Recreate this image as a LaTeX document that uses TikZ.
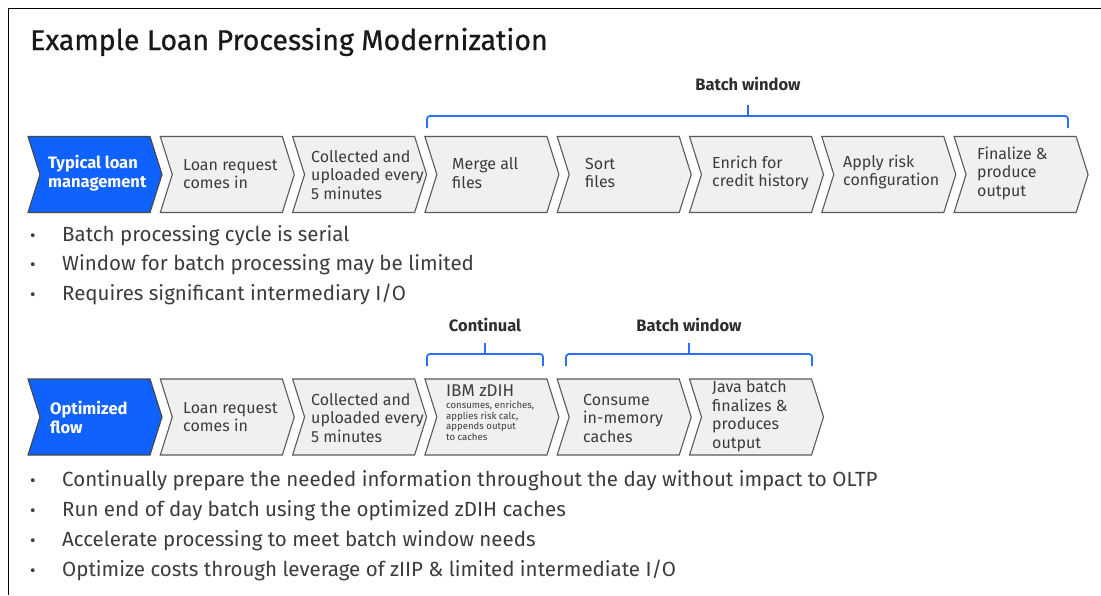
\documentclass[tikz,border=0pt]{standalone}
\usepackage{fontspec}
\setmainfont{Fira Sans}
\newfontfamily\headingfont{Fira Sans}[FakeBold=0.7]
\usetikzlibrary{shapes.symbols}
\definecolor{ibmblue}{HTML}{0F62FE}
\definecolor{bracketblue}{HTML}{2A6FFF}
\definecolor{chevfill}{HTML}{F0F0F0}
\definecolor{chevedge}{HTML}{5A5A5A}
\definecolor{bodytext}{HTML}{3C3C3C}
\definecolor{labeltext}{HTML}{2E2E2E}
\begin{document}
\begin{tikzpicture}[x=1pt,y=-1pt,
  chev/.style={signal, signal to=east, signal from=west, signal pointer angle=145,
    minimum width=134pt, minimum height=76pt, inner sep=0pt,
    draw=chevedge, line width=1.1pt, fill=chevfill},
  chevblue/.style={chev, fill=ibmblue, draw=chevedge!80!black},
  ctext/.style={anchor=west, align=left, inner sep=0pt, text=bodytext,
    font=\fontsize{16}{18.5}\selectfont},
  cwhite/.style={ctext, text=white, font=\fontsize{16.5}{19}\selectfont\bfseries},
  bultext/.style={anchor=base west, inner sep=0pt, text=bodytext,
    font=\fontsize{20.5}{24}\selectfont},
  bulmark/.style={anchor=base, inner sep=0pt, text=bodytext,
    font=\fontsize{17}{18}\selectfont},
  bracket/.style={draw=bracketblue, line width=1.8pt, rounded corners=3pt},
  blabel/.style={anchor=base, inner sep=0pt, text=labeltext,
    font=\fontsize{16.5}{19}\selectfont\bfseries}]
\useasboundingbox (0,0) rectangle (1101,595);
\fill[white] (0,0) rectangle (1101,595);

% frame
\draw[line width=1.2pt, black] (8.5,595) -- (8.5,8.5) -- (1101,8.5);

% title
\node[anchor=base west, inner sep=0pt, text=black!90,
  font=\headingfont\fontsize{28.5}{32}\selectfont] (title) at (30,50) {Example Loan Processing Modernization};

% ---------- first flow ----------
\node[chevblue] (a0) at (95,174.5) {};
\node[chev] (a1) at (227.3,174.5) {};
\node[chev] (a2) at (359.6,174.5) {};
\node[chev] (a3) at (491.9,174.5) {};
\node[chev] (a4) at (624.2,174.5) {};
\node[chev] (a5) at (756.5,174.5) {};
\node[chev] (a6) at (888.8,174.5) {};
\node[chev] (a7) at (1021.1,174.5) {};

\node[cwhite] (ta0) at (48,173) {Typical loan\\management};
\node[ctext] (ta1) at (183,174) {Loan request\\comes in};
\node[ctext] (ta2) at (311,175) {Collected and\\uploaded every\\5 minutes};
\node[ctext] (ta3) at (452,173) {Merge all\\files};
\node[ctext] (ta4) at (585,173) {Sort\\files};
\node[ctext] (ta5) at (712,173) {Enrich for\\credit history};
\node[ctext] (ta6) at (843,172) {Apply risk\\configuration};
\node[ctext] (ta7) at (977,173) {Finalize \&\\produce\\output};

% batch window bracket
\coordinate (b1l) at (427,128);
\coordinate (b1r) at (1068,128);
\coordinate (b1m) at (748,116);
\draw[bracket] (b1l) -- (427,116) -- (1068,116) -- (b1r);
\draw[bracket, rounded corners=0pt] (b1m) -- ++(0,-11);
\node[blabel] (lb1) at (748,90) {Batch window};

% bullets, first flow
\node[bulmark] (m1) at (33,241) {•};
\node[bultext] (l1) at (62,241) {Batch processing cycle is serial};
\node[bulmark] (m2) at (33,270) {•};
\node[bultext] (l2) at (62,270) {Window for batch processing may be limited};
\node[bulmark] (m3) at (33,300) {•};
\node[bultext] (l3) at (62,300) {Requires significant intermediary I/O};

% ---------- optimized flow ----------
\node[chevblue] (c0) at (95,417) {};
\node[chev] (c1) at (227.3,417) {};
\node[chev] (c2) at (359.6,417) {};
\node[chev] (c3) at (491.9,417) {};
\node[chev] (c4) at (624.2,417) {};
\node[chev] (c5) at (756.5,417) {};

\node[cwhite] (tc0) at (50,417) {Optimized\\flow};
\node[ctext] (tc1) at (183,417) {Loan request\\comes in};
\node[ctext] (tc2) at (311,418) {Collected and\\uploaded every\\5 minutes};
\node[anchor=base west, inner sep=0pt, text=bodytext,
  font=\fontsize{17}{18}\selectfont] (tc3) at (446,396) {IBM zDIH};
\node[anchor=north west, align=left, inner sep=0pt, text=bodytext,
  font=\fontsize{9.6}{10.6}\selectfont] (tc3s) at (446,401)
  {consumes, enriches,\\applies risk calc,\\appends output\\to caches};
\node[ctext] (tc4) at (583,418) {Consume\\in-memory\\caches};
\node[ctext] (tc5) at (712,416) {Java batch\\finalizes \&\\produces\\output};

% continual bracket
\coordinate (b2l) at (427,366);
\coordinate (b2r) at (543,366);
\coordinate (b2m) at (485,354);
\draw[bracket] (b2l) -- (427,354) -- (543,354) -- (b2r);
\draw[bracket, rounded corners=0pt] (b2m) -- ++(0,-11);
\node[blabel] (lb2) at (485,331) {Continual};

% batch window bracket, optimized flow
\coordinate (b3l) at (566,366);
\coordinate (b3r) at (812,366);
\coordinate (b3m) at (689,354);
\draw[bracket] (b3l) -- (566,354) -- (812,354) -- (b3r);
\draw[bracket, rounded corners=0pt] (b3m) -- ++(0,-11);
\node[blabel] (lb3) at (689,331) {Batch window};

% bullets, optimized flow
\node[bulmark] (n1) at (33,486) {•};
\node[bultext] (k1) at (62,486) {Continually prepare the needed information throughout the day without impact to OLTP};
\node[bulmark] (n2) at (33,516) {•};
\node[bultext] (k2) at (62,516) {Run end of day batch using the optimized zDIH caches};
\node[bulmark] (n3) at (33,546) {•};
\node[bultext] (k3) at (62,546) {Accelerate processing to meet batch window needs};
\node[bulmark] (n4) at (33,576) {•};
\node[bultext] (k4) at (62,576) {Optimize costs through leverage of zIIP \& limited intermediate I/O};
\end{tikzpicture}
\end{document}
